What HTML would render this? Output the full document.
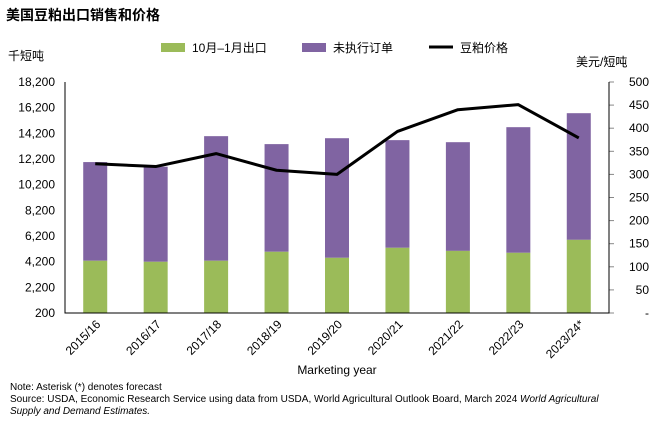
<!DOCTYPE html>
<html><head><meta charset="utf-8"><style>
body{margin:0;background:#fff;width:651px;height:425px;overflow:hidden;font-family:"Liberation Sans","Noto Sans CJK SC",sans-serif;}
svg text{font-family:"Liberation Sans","Noto Sans CJK SC",sans-serif;}
</style></head><body>
<svg id="c" width="651" height="425">
<text x="6" y="20" font-size="14" font-weight="bold" fill="#000">美国豆粕出口销售和价格</text>
<text x="8" y="60" font-size="12">千短吨</text>
<text x="576" y="66" font-size="12">美元/短吨</text>
<g>
<rect x="161" y="43" width="24" height="9" fill="#9bbb59"/>
<text x="192" y="52" font-size="12">10月–1月出口</text>
<rect x="302" y="43" width="24" height="9" fill="#8064a2"/>
<text x="333" y="52" font-size="12">未执行订单</text>
<line x1="429" y1="47" x2="453" y2="47" stroke="#000" stroke-width="3"/>
<text x="460" y="52" font-size="12">豆粕价格</text>
</g>
<g id="plot"></g>
<text x="337" y="374" font-size="12" text-anchor="middle">Marketing year</text>
<text x="10" y="390" font-size="10">Note: Asterisk (*) denotes forecast</text>
<text x="10" y="402" font-size="10">Source: USDA, Economic Research Service using data from USDA, World Agricultural Outlook Board, March 2024 <tspan font-style="italic">World Agricultural</tspan></text>
<text x="10" y="414" font-size="10" font-style="italic">Supply and Demand Estimates.</text>
</svg>
<script>
const categories=["2015/16","2016/17","2017/18","2018/19","2019/20","2020/21","2021/22","2022/23","2023/24*"];
const exportsVals=[4270,4190,4270,4970,4500,5280,5040,4890,5900];
const totalVals=[11960,11600,13980,13360,13820,13670,13510,14680,15770];
const priceVals=[323,317,345,309,300,393,440,451,379];
const leftTicks=[200,2200,4200,6200,8200,10200,12200,14200,16200,18200];
const rightTicks=[0,50,100,150,200,250,300,350,400,450,500];
const X0=65,X1=609,Y0=313,Y1=82;
const yL=v=>Y0-(v-200)/18000*(Y0-Y1);
const yR=v=>Y0-v/500*(Y0-Y1);
const step=(X1-X0)/categories.length;
const xC=i=>X0+step*(i+0.5);
const g=document.getElementById('plot');const NS='http://www.w3.org/2000/svg';
function mk(t,a){const e=document.createElementNS(NS,t);for(const k in a)e.setAttribute(k,a[k]);g.appendChild(e);return e;}
let e;
leftTicks.forEach(v=>{e=mk('text',{x:X0-10,y:yL(v)+4,'font-size':12,'text-anchor':'end'});e.textContent=v.toLocaleString('en-US');

});
rightTicks.forEach(v=>{e=mk('line',{x1:X1,x2:X1+5,y1:yR(v),y2:yR(v),stroke:'#888'});


e=mk('text',{x:X1+40,y:yR(v)+4,'font-size':12,'text-anchor':'end'});e.textContent=v===0?'-':v;

});
categories.forEach((c,i)=>{const x=xC(i),w=24;
e=mk('rect',{x:x-w/2,y:yL(totalVals[i]),width:w,height:yL(exportsVals[i])-yL(totalVals[i]),fill:'#8064a2'});


e=mk('rect',{x:x-w/2,y:yL(exportsVals[i]),width:w,height:Y0-yL(exportsVals[i]),fill:'#9bbb59'});


e=mk('text',{x:x+6,y:Y0+12,'font-size':12,'text-anchor':'end',transform:`rotate(-45 ${x+6} ${Y0+12})`});e.textContent=c;

});
e=mk('polyline',{points:priceVals.map((v,i)=>xC(i)+','+yR(v)).join(' '),fill:'none',stroke:'#000','stroke-width':3,'stroke-linejoin':'round'});


e=mk('path',{d:`M${X0},${Y1}V${Y0}H${X1}V${Y1}`,fill:'none',stroke:'#000','stroke-width':1});


</script>
</body></html>
